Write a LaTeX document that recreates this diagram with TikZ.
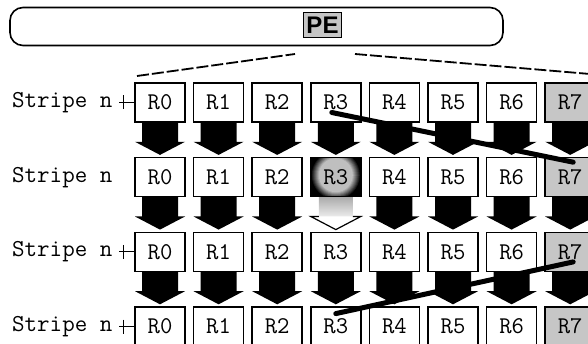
\documentclass[tikz,border=0pt]{standalone}
\usepackage{fontspec}
\usetikzlibrary{calc}
\newfontfamily\sansf{Liberation Sans}
\newcommand\heavytt{\ttfamily\addfontfeatures{FakeBold=1.2}}
\begin{document}
\begin{tikzpicture}[x=1pt,y=-1pt,
  regbox/.style={draw, line width=1.6pt, minimum width=50pt, minimum height=39pt,
    inner sep=0pt, fill=white, font=\heavytt\fontsize{24}{24}\selectfont},
  graybox/.style={fill=gray!45},
  cell-1-7/.style={graybox}, cell-2-7/.style={graybox},
  cell-3-7/.style={graybox}, cell-4-7/.style={graybox},
  cell-2-3/.style={fill=none},
  stripelabel/.style={anchor=west, inner sep=0pt, font=\heavytt\fontsize{24.3}{24.3}\selectfont},
  thickline/.style={line width=5pt, line cap=round},
  dashline/.style={line width=1.8pt, dash pattern=on 12pt off 3pt},
  tickmark/.style={line width=1pt}]
\useasboundingbox (0,0) rectangle (588,344);

% PE bar
\node[draw, line width=1.6pt, rounded corners=13pt, minimum width=493pt,
  minimum height=38pt, inner sep=0pt] (pe) at (256.5,26.5) {};
\node[draw, line width=1.8pt, fill=gray!45, minimum width=38pt, minimum height=25pt,
  inner sep=0pt, font=\sansf\bfseries\fontsize{24}{24}\selectfont] (pelabel) at (322.5,25) {PE};

% highlighted register background (R3, second stripe): glowing disc on black
\coordinate (c23) at ({160+58.6*3},177.2);
\begin{scope}
  \clip ($(c23)+(-25,-19.5)$) rectangle ($(c23)+(25,19.5)$);
  \fill[black] ($(c23)+(-25,-19.5)$) rectangle ($(c23)+(25,19.5)$);
  \foreach \k in {0,...,12}{
    \pgfmathsetmacro\rad{25-\k}
    \pgfmathsetmacro\pc{max(25,100-\k*9.5)}
    \fill[black!\pc] ($(c23)+(0,-2)$) circle (\rad pt);
  }
\end{scope}

% register boxes
\foreach \r/\yy in {1/102.5,2/177.2,3/251.9,4/326.6}{
  \foreach \i in {0,...,7}{
    \node[regbox, cell-\r-\i/.try] (b-\r-\i) at ({160+58.6*\i},\yy) {R\i};
  }
  \node[stripelabel] (s-\r) at (12,\yy) {Stripe n};
}

% tick marks
\foreach \r in {1,3,4}{
  \draw[tickmark] ($(b-\r-0.west)+(-15,0)$) -- (b-\r-0.west);
  \draw[tickmark] ($(b-\r-0.west)+(-11,-7)$) -- ($(b-\r-0.west)+(-11,7)$);
}

% block arrows
\foreach \r/\s in {1/2,2/3,3/4}{
  \foreach \i in {0,...,7}{
    \ifnum\r\i=23
      \shade[top color=gray!65, bottom color=gray!15]
        ($(b-\r-\i.south)+(-17,0)$) rectangle ($(b-\r-\i.south)+(17,19)$);
      \filldraw[fill=white, line width=1.2pt, line join=miter]
        ($(b-\r-\i.south)+(-17,19)$) -- ($(b-\r-\i.south)+(-25,19)$)
        -- ($(b-\s-\i.north)+(0,-2)$)
        -- ($(b-\r-\i.south)+(25,19)$) -- ($(b-\r-\i.south)+(17,19)$);
    \else
      \fill ($(b-\r-\i.south)+(-18,-1)$) -- ($(b-\r-\i.south)+(-18,19)$)
        -- ($(b-\r-\i.south)+(-25,19)$) -- ($(b-\s-\i.north)+(0,-2)$)
        -- ($(b-\r-\i.south)+(25,19)$) -- ($(b-\r-\i.south)+(18,19)$)
        -- ($(b-\r-\i.south)+(18,-1)$) -- cycle;
    \fi
  }
}

% dashed fan lines
\coordinate (fl1) at (137,76);
\coordinate (fl2) at (295,54);
\coordinate (fr1) at (355,54);
\coordinate (fr2) at (590,74);
\draw[dashline] (fl1) -- (fl2);
\draw[dashline] (fr1) -- (fr2);

% thick diagonal lines
\coordinate (da) at ($(b-1-3.center)+(-4,10)$);
\coordinate (db) at ($(b-2-7.center)+(3,-15)$);
\coordinate (dc) at ($(b-4-3.center)+(0,-13)$);
\coordinate (dd) at ($(b-3-7.center)+(3,10)$);
\draw[thickline] (da) -- (db);
\draw[thickline] (dc) -- (dd);
\end{tikzpicture}
\end{document}
